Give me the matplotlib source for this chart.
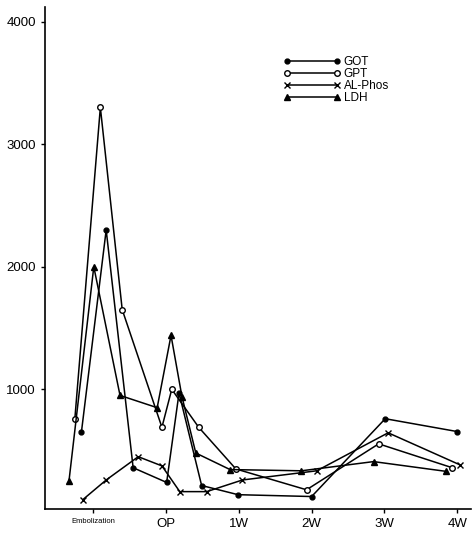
import numpy as np
import matplotlib
matplotlib.use("Agg")
import matplotlib.pyplot as plt

plt.rcParams["font.family"] = ["Liberation Sans", "DejaVu Sans"]

# ------------------------------------------------------------
# Data (x: 0=Embolization, 1=OP, 2..5 = 1W..4W)
# ------------------------------------------------------------
tick_pos = [0, 1, 2, 3, 4, 5]
tick_labels = ["Embolization", "OP", "1W", "2W", "3W", "4W"]

got_x = [-0.16, 0.18, 0.55, 1.01, 1.18, 1.49, 1.99, 3.00, 4.01, 5.00]
got_y = [650, 2300, 360, 240, 970, 215, 140, 125, 760, 655]

gpt_x = [-0.25, 0.10, 0.40, 0.945, 1.08, 1.45, 1.96, 2.93, 3.92, 4.93]
gpt_y = [760, 3300, 1650, 690, 1000, 690, 350, 180, 555, 360]

alp_x = [-0.14, 0.18, 0.62, 0.945, 1.19, 1.56, 2.05, 3.07, 4.05, 5.03]
alp_y = [100, 260, 450, 375, 165, 165, 260, 335, 645, 385]

ldh_x = [-0.33, 0.01, 0.37, 0.88, 1.07, 1.22, 1.41, 1.88, 2.86, 3.85, 4.85]
ldh_y = [255, 2000, 950, 850, 1440, 940, 480, 345, 335, 410, 330]

fig = plt.figure(figsize=(4.72, 5.35), dpi=100)
ax = fig.add_axes([0.0953, 0.049, 0.903, 0.938])

lw = 1.1
ax.plot(got_x, got_y, color="black", lw=lw, marker="o", ms=3.5,
        mfc="black", mec="black", label="GOT")
ax.plot(gpt_x, gpt_y, color="black", lw=lw, marker="o", ms=4,
        mfc="white", mec="black", mew=1.0, label="GPT")
ax.plot(alp_x, alp_y, color="black", lw=lw, marker="x", ms=4,
        mew=1.0, label="AL-Phos")
ax.plot(ldh_x, ldh_y, color="black", lw=lw, marker="^", ms=4,
        mfc="black", mec="black", label="LDH")

ax.set_xlim(-0.66, 5.19)
ax.set_ylim(25, 4120)

for side in ["top", "right"]:
    ax.spines[side].set_visible(False)
for side in ["left", "bottom"]:
    ax.spines[side].set_linewidth(1.2)

ax.set_yticks([1000, 2000, 3000, 4000])
ax.set_yticklabels(["1000", "2000", "3000", "4000"], fontsize=9.5)
ax.set_xticks(tick_pos)
ax.set_xticklabels(tick_labels, fontsize=9.5)
ax.get_xticklabels()[0].set_fontsize(5.5)
ax.tick_params(axis="both", direction="out", length=3, width=1)

leg = ax.legend(loc="upper left", bbox_to_anchor=(0.546, 0.914),
                frameon=False, numpoints=2, handlelength=4.8,
                handletextpad=0.3, labelspacing=0.0, borderpad=0,
                fontsize=8.5)

fig.savefig("out.png", dpi=100)
